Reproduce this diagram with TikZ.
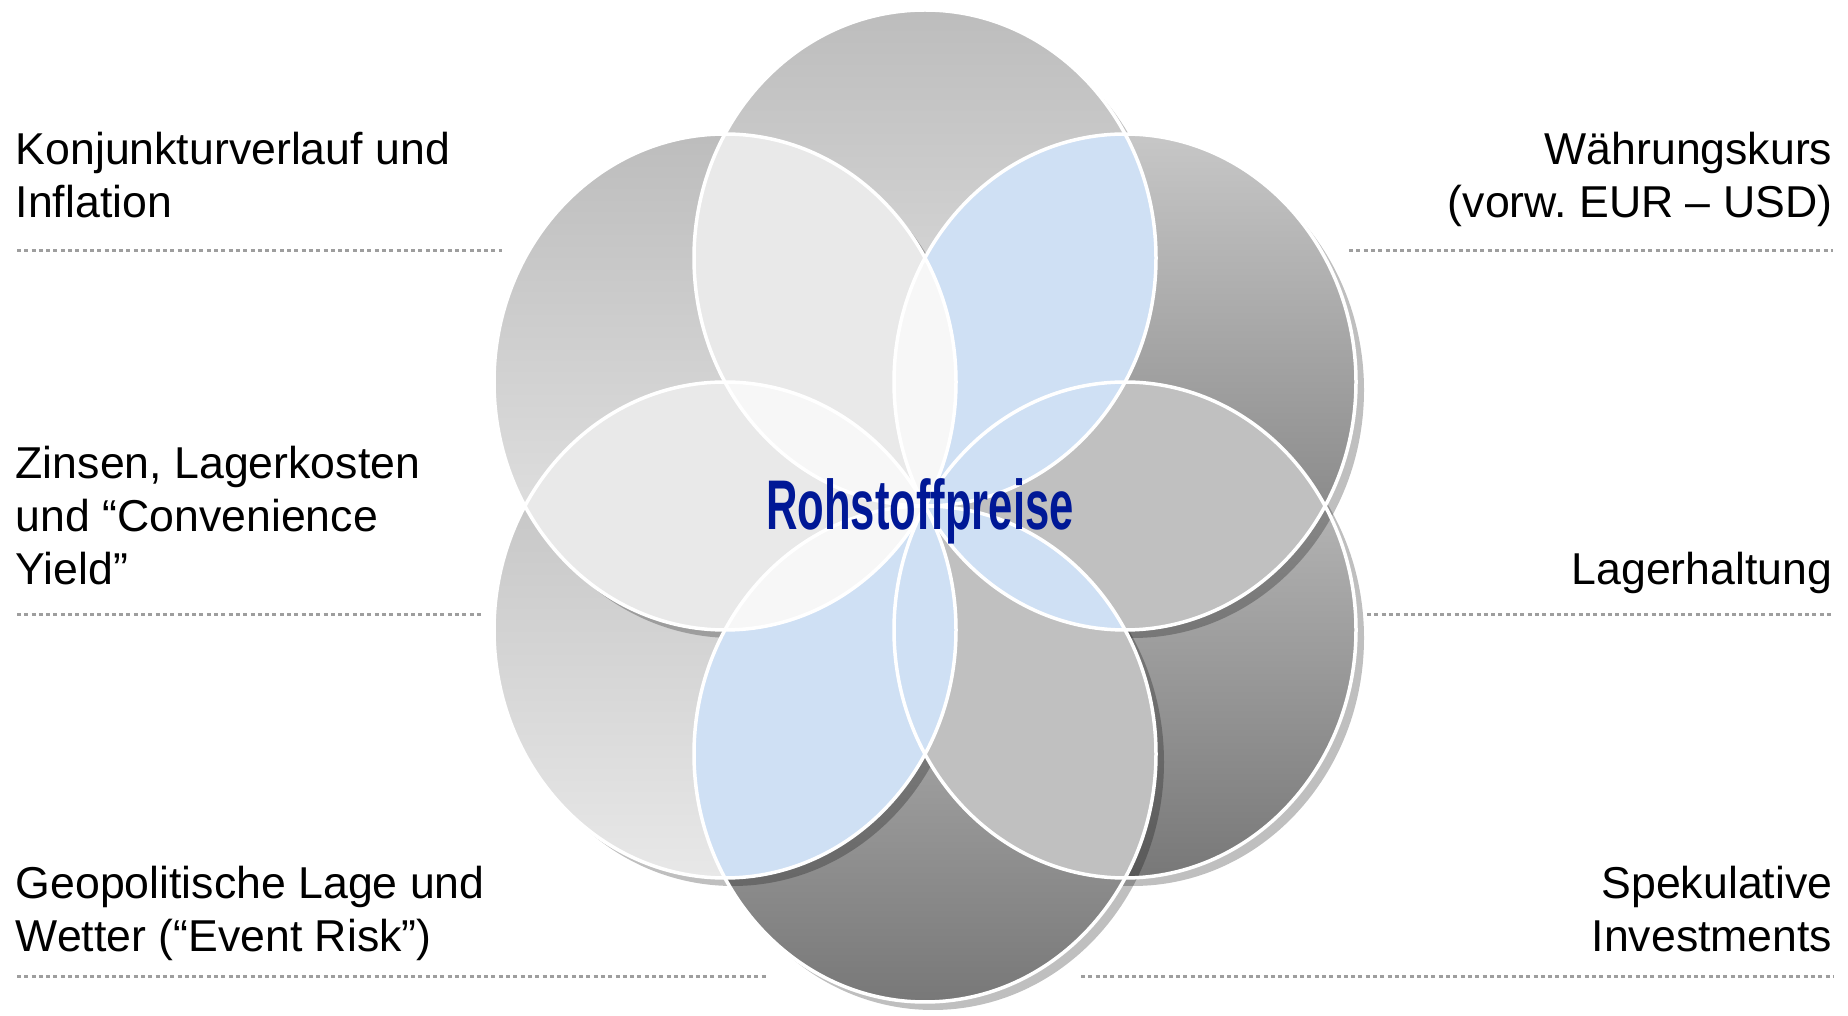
\documentclass[tikz,border=0pt]{standalone}
\usepackage{fontspec}
\setmainfont{Liberation Sans}
\usepackage{tikz}
\usetikzlibrary{calc}

\definecolor{lensgray}{HTML}{E9E9E9}
\definecolor{lensblue}{HTML}{CFE0F4}
\definecolor{lensmid}{HTML}{C0C0C0}
\definecolor{petalwhite}{HTML}{F7F7F7}
\definecolor{titleblue}{RGB}{0,24,150}
\definecolor{rulegray}{HTML}{9E9E9E}

\tikzset{
  lightball/.style={top color=black!26, bottom color=black!9},
  darkball/.style={top color=black!22, middle color=black!30, bottom color=black!53},
  factor/.style={font=\fontsize{12.7}{15.1}\selectfont, inner sep=0pt},
  rule/.style={rulegray, line width=0.3mm, dash pattern=on 0.4mm off 0.33mm},
}
\def\ra{23.1mm}
\def\rb{24.8mm}

\begin{document}
\begin{tikzpicture}[x=0.1mm,y=-0.1mm]
  \useasboundingbox (0,0) rectangle (1848,1016);
  % centres of the six rings
  \coordinate (t) at (925,258);
  \coordinate (ur) at (1125,382);
  \coordinate (lr) at (1125,630);
  \coordinate (b) at (925,754);
  \coordinate (ll) at (725,630);
  \coordinate (ul) at (725,382);

  % rings with shadow, back to front
  \foreach \p/\s in {t/lightball, lr/darkball, ur/darkball, b/darkball, ll/lightball, ul/lightball}{
    \fill[black,opacity=.25] ([shift={(8,8)}]\p) ellipse [x radius=\ra, y radius=\rb];
    \fill[\s] (\p) ellipse [x radius=\ra, y radius=\rb];
  }

  % overlap of two neighbours
  \foreach \p/\q/\c in {t/ul/lensgray, ul/ll/lensgray, ll/b/lensblue, b/lr/lensmid, lr/ur/lensmid, ur/t/lensblue}{
    \begin{scope}
      \clip (\p) ellipse [x radius=\ra, y radius=\rb];
      \fill[\c] (\q) ellipse [x radius=\ra, y radius=\rb];
    \end{scope}
  }
  % inner petals (three rings)
  \foreach \p/\q/\c in {ul/ur/petalwhite, t/ll/petalwhite, ul/b/petalwhite, ll/lr/lensblue, b/ur/lensblue, lr/t/lensblue}{
    \begin{scope}
      \clip (\p) ellipse [x radius=\ra, y radius=\rb];
      \fill[\c] (\q) ellipse [x radius=\ra, y radius=\rb];
    \end{scope}
  }
  \foreach \p in {t,ur,lr,b,ll,ul}
    \draw[white, line width=0.35mm] (\p) ellipse [x radius=\ra, y radius=\rb];

  \node[inner sep=0pt, anchor=base, text=titleblue, font=\fontsize{20}{24}\selectfont\bfseries] (title) at (920,530) {\scalebox{0.62}[1]{Rohstoffpreise}};

  % factors left
  \node[factor, anchor=base west, align=left] (konj) at (15,218) {Konjunkturverlauf und\\Inflation};
  \node[factor, anchor=base west, align=left] (zins) at (15,585) {Zinsen, Lagerkosten\\und “Convenience\\Yield”};
  \node[factor, anchor=base west, align=left] (geo) at (15,952) {Geopolitische Lage und\\Wetter (“Event Risk”)};
  % factors right
  \node[factor, anchor=base east, align=right] (wkurs) at (1833,218) {Währungskurs\\(vorw.\ EUR – USD)};
  \node[factor, anchor=base east, align=right] (lager) at (1833,585) {Lagerhaltung};
  \node[factor, anchor=base east, align=right] (spek) at (1833,952) {Spekulative\\Investments};

  \draw[rule] (17,251) -- (502,251);
  \draw[rule] (17,615) -- (481,615);
  \draw[rule] (17,977) -- (768,977);
  \draw[rule] (1349,251) -- (1833,251);
  \draw[rule] (1367,615) -- (1833,615);
  \draw[rule] (1081,977) -- (1833,977);
\end{tikzpicture}
\end{document}
